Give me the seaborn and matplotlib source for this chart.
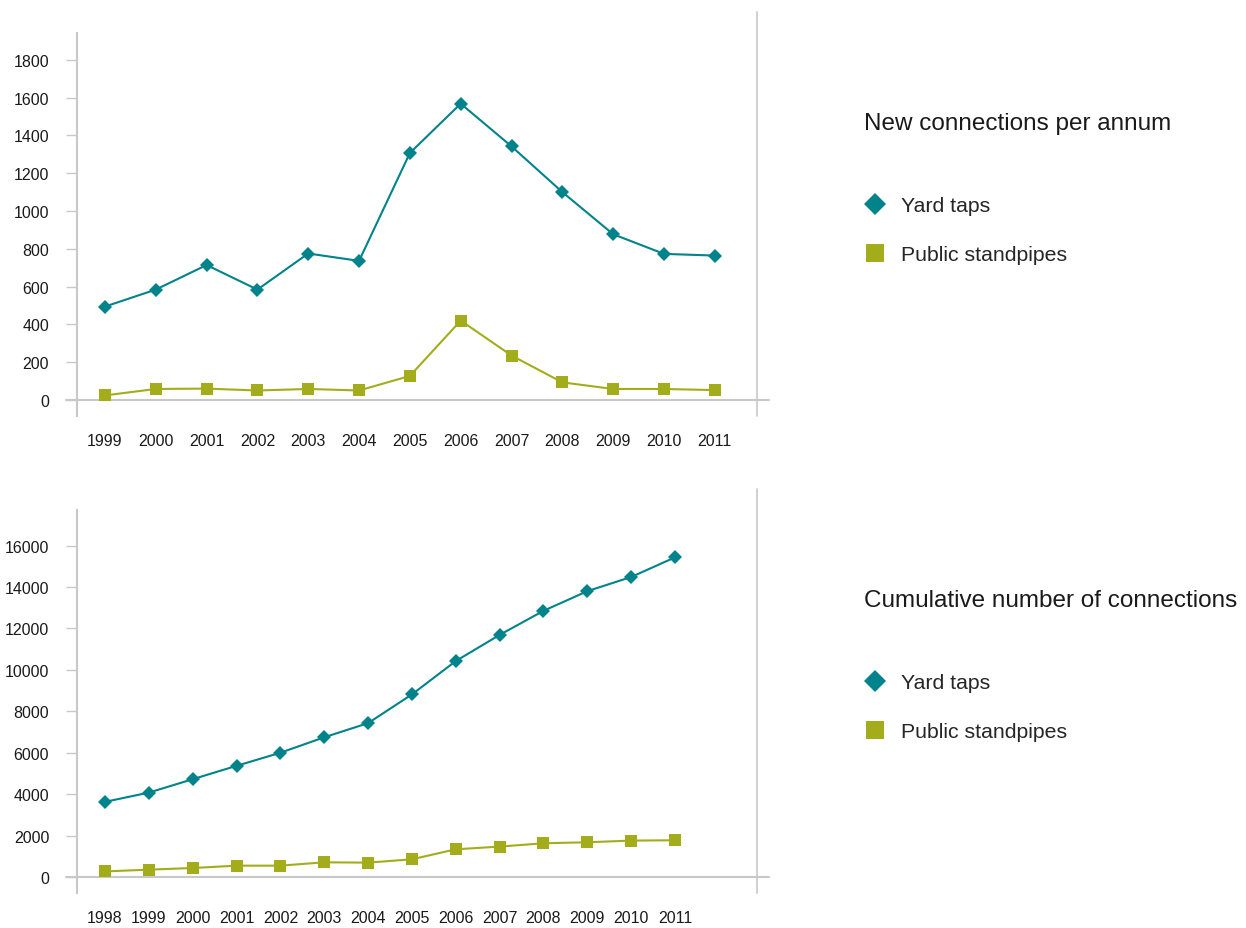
import pandas as pd
import seaborn as sns
import matplotlib.pyplot as plt
from matplotlib.lines import Line2D

# --- data ---
years_new = list(range(1999, 2012))
yard_new = [494, 584, 714, 584, 775, 736, 1307, 1568, 1342, 1100, 877, 773, 764]
standpipe_new = [24, 58, 60, 50, 58, 50, 127, 420, 235, 93, 58, 58, 52]

years_cum = list(range(1998, 2012))
yard_cum = [3630, 4075, 4722, 5368, 6000, 6746, 7429, 8816, 10426, 11689, 12850, 13800, 14483, 15433]
standpipe_cum = [270, 355, 435, 548, 548, 710, 694, 855, 1339, 1468, 1629, 1677, 1758, 1774]

series_names = ['Yard taps', 'Public standpipes']
titles = ['New connections per annum', 'Cumulative number of connections']
colors = {'Yard taps': '#00838A', 'Public standpipes': '#A3AD1C'}
markers = {'Yard taps': 'D', 'Public standpipes': 's'}
grey = '#c8c8c8'


def long_df(years, yard, pipes):
    a = pd.DataFrame({'year': years, 'value': yard, 'type': 'Yard taps'})
    b = pd.DataFrame({'year': years, 'value': pipes, 'type': 'Public standpipes'})
    return pd.concat([a, b], ignore_index=True)


df_new = long_df(years_new, yard_new, standpipe_new)
df_cum = long_df(years_cum, yard_cum, standpipe_cum)

sns.set_style('white')
plt.rcParams['font.family'] = ['Liberation Sans', 'DejaVu Sans']

fig = plt.figure(figsize=(12.46, 9.29), dpi=100)
W, H = 1246, 929

# axes boxes in pixels: left, top, right, bottom
boxes = [(77, 34, 757, 417), (77, 511, 757, 894)]
ylims = [(-85, 1942), (-772, 17718)]
xlims = [(1998.45, 2011.83), (1997.36, 2012.87)]
yticks = [list(range(0, 1801, 200)), list(range(0, 16001, 2000))]
right_line_top = [13, 490]
legend_pos = [(124, 204), (601, 681)]

for i, (data, years) in enumerate([(df_new, years_new), (df_cum, years_cum)]):
    l, t, r, b = boxes[i]
    ax = fig.add_axes([l / W, 1 - b / H, (r - l) / W, (b - t) / H])
    sns.lineplot(data=data, x='year', y='value', hue='type', style='type',
                 hue_order=series_names, style_order=series_names,
                 palette=colors, markers=markers, dashes=False, ax=ax,
                 linewidth=1.5, markersize=8.6, markeredgewidth=0, legend=False)
    # diamonds a touch smaller than the squares
    for line in ax.lines:
        if line.get_marker() == 'D':
            line.set_markersize(7)

    ax.set_xlim(*xlims[i])
    ax.set_ylim(*ylims[i])
    ax.set_xticks(years)
    ax.set_xticklabels([str(y) for y in years], fontsize=11.5, color='#1a1a1a')
    ax.set_yticks(yticks[i])
    ax.set_yticklabels([str(v) for v in yticks[i]], fontsize=11.5, color='#1a1a1a')
    ax.tick_params(axis='x', length=0, pad=12)
    ax.tick_params(axis='y', length=8, width=1, color=grey, pad=12, direction='out', left=True)
    ax.set_xlabel('')
    ax.set_ylabel('')

    for s in ['top', 'right', 'bottom']:
        ax.spines[s].set_visible(False)
    ax.spines['left'].set_color(grey)
    ax.spines['left'].set_linewidth(1.5)

    # zero baseline running past both verticals
    ax.plot([-11 / (r - l), 1 + 12 / (r - l)], [0, 0], color=grey, lw=1.5,
            transform=ax.get_yaxis_transform(), clip_on=False, zorder=1)
    # right-hand divider
    ax.plot([1, 1], [0, (b - right_line_top[i]) / (b - t)], color=grey, lw=1.2,
            transform=ax.transAxes, clip_on=False, zorder=1)

    # title + legend on the right
    ty, y1 = legend_pos[i]
    fig.text(864 / W, 1 - ty / H, titles[i], ha='left', va='center', fontsize=17.5, color='#1a1a1a')
    handles = [Line2D([], [], linestyle='none', marker='D', markersize=11.5,
                      markerfacecolor=colors['Yard taps'], markeredgewidth=0),
               Line2D([], [], linestyle='none', marker='s', markersize=13.5,
                      markerfacecolor=colors['Public standpipes'], markeredgewidth=0)]
    fig.legend(handles, series_names, loc='upper left',
               bbox_to_anchor=(864 / W, 1 - (y1 - 7) / H), frameon=False,
               fontsize=15.3, labelspacing=1.43, handletextpad=0.75, handlelength=1.0,
               borderaxespad=0, borderpad=0)

fig.savefig('out.png', dpi=100)
